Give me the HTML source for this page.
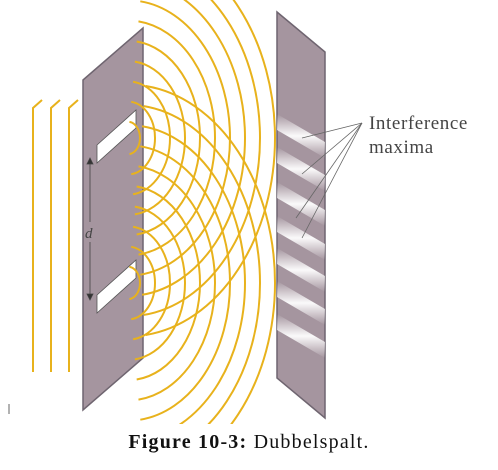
<!DOCTYPE html>
<html><head><meta charset="utf-8"><style>
html,body{margin:0;padding:0;background:#fff;width:498px;height:470px;overflow:hidden}
svg{display:block}
</style></head><body>
<svg id="fig" width="498" height="470" viewBox="0 0 498 470">
<defs>
<clipPath id="waveClip"><rect x="120" y="0" width="172" height="424"/></clipPath>
<clipPath id="screenClip"><polygon points="277,12 325,52 325,418 277,378"/></clipPath>
<linearGradient id="stripe" x1="0" y1="0" x2="0" y2="1">
<stop offset="0" stop-color="#ffffff" stop-opacity="0"/>
<stop offset="0.5" stop-color="#ffffff" stop-opacity="0.95"/>
<stop offset="1" stop-color="#ffffff" stop-opacity="0"/>
</linearGradient>
</defs>
<g fill="none" stroke="#e8b21c" stroke-width="2">
<path d="M33,372 L33,108 L42,100"/>
<path d="M51,372 L51,108 L60,100"/>
<path d="M69,372 L69,108 L78,100"/>
</g>
<polygon points="83,80 143,28 143,358 83,410" fill="#a5959f" stroke="#6f6570" stroke-width="1.5"/>
<polygon points="97,145 136,110 136,128 97,163" fill="#fff" stroke="#555" stroke-width="0.8"/>
<polygon points="97,295 136,260 136,278 97,313" fill="#fff" stroke="#555" stroke-width="0.8"/>
<g stroke="#444" stroke-width="0.8">
<line x1="90" y1="158" x2="90" y2="222"/><line x1="90" y1="242" x2="90" y2="300"/>
<polygon points="87,164 93,164 90,158" fill="#333"/><polygon points="87,294 93,294 90,300" fill="#333"/>
</g>
<text x="85" y="238" font-family="Liberation Serif, serif" font-style="italic" font-size="15" fill="#444">d</text>
<polygon points="277,12 325,52 325,418 277,378" fill="#a5959f" stroke="#6f6570" stroke-width="1.5"/>
<g id="fringes" clip-path="url(#screenClip)"></g>
<g id="waves" clip-path="url(#waveClip)" fill="none" stroke="#e8b21c" stroke-width="2"></g>
<g stroke="#666" stroke-width="0.8">
<line x1="362" y1="123" x2="302" y2="138"/><line x1="362" y1="123" x2="302" y2="174"/>
<line x1="362" y1="123" x2="296" y2="218"/><line x1="362" y1="123" x2="302" y2="238"/>
</g>
<text x="369" y="129" font-family="Liberation Serif, serif" font-size="19" letter-spacing="0.6" fill="#444">Interference</text>
<text x="369" y="153" font-family="Liberation Serif, serif" font-size="19" letter-spacing="0.6" fill="#444">maxima</text>
<text x="249" y="448" text-anchor="middle" font-family="Liberation Serif, serif" font-size="20" letter-spacing="1.2" fill="#111"><tspan font-weight="bold">Figure 10-3:</tspan> Dubbelspalt.</text>
<path d="M9,404 L9,414" stroke="#666" stroke-width="1"/>
</svg>
<script>
const sourceYs = [138, 283];
const radii = [12, 27, 42, 57, 72, 87, 102, 117, 132, 147];
const fringeYs = [130, 163, 198, 232, 264, 297, 330];
const NS = 'http://www.w3.org/2000/svg';
const waves = document.getElementById('waves');
sourceYs.forEach(function(sy){
  radii.forEach(function(r){
    const sx = 128, ry = r*1.35;
    const a0 = -1.45, a1 = 1.45;
    const p = document.createElementNS(NS, 'path');
    const x0 = sx + r*Math.cos(a0), y0 = sy + ry*Math.sin(a0);
    const x1 = sx + r*Math.cos(a1), y1 = sy + ry*Math.sin(a1);
    p.setAttribute('d', 'M' + x0 + ',' + y0 + ' A' + r + ',' + ry + ' 0 0 1 ' + x1 + ',' + y1);
    
    
    waves.appendChild(p);
  });
});
const fr = document.getElementById('fringes');
fringeYs.forEach(function(fy){
  const g = document.createElementNS(NS, 'polygon');
  g.setAttribute('points', '277,' + (fy-16) + ' 325,' + (fy+12) + ' 325,' + (fy+28) + ' 277,' + fy);
  g.setAttribute('fill', 'url(#stripe)');
  
  
  fr.appendChild(g);
});
</script>
</body></html>
